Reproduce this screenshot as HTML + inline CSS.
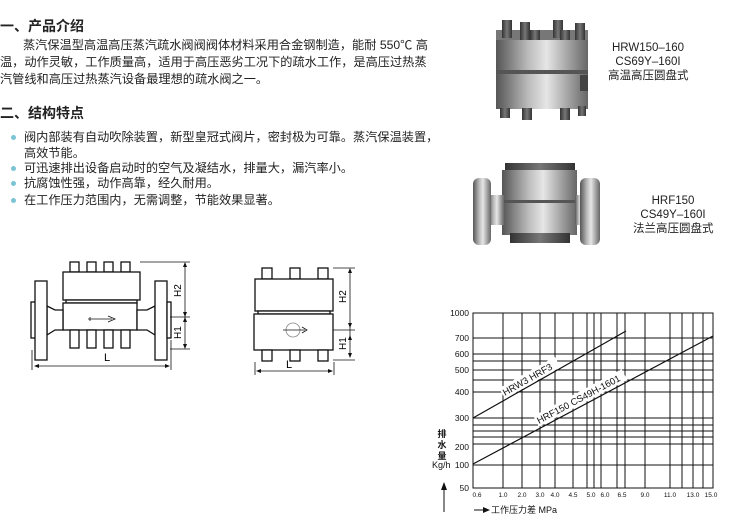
<!DOCTYPE html>
<html><head><meta charset="utf-8"><style>
body{margin:0;width:730px;height:523px;background:#fff;position:relative;overflow:hidden;font-family:"Liberation Sans","Noto Sans CJK SC",sans-serif;color:#222}
.t{position:absolute;white-space:nowrap;font-size:12.2px;line-height:16px}
.h{position:absolute;font-weight:bold;font-size:14px;white-space:nowrap}
.b{position:absolute;width:5px;height:5px;border-radius:50%;background:#7bc4d4}
.lab{position:absolute;font-size:11.5px;line-height:14px;text-align:center;white-space:nowrap}
</style></head><body>
<div class="h" style="left:0;top:16px">一、产品介绍</div>
<div class="t" style="left:23px;top:37px">蒸汽保温型高温高压蒸汽疏水阀阀阀体材料采用合金钢制造，能耐 550℃ 高</div>
<div class="t" style="left:0;top:54px">温，动作灵敏，工作质量高，适用于高压恶劣工况下的疏水工作，是高压过热蒸</div>
<div class="t" style="left:0;top:71px">汽管线和高压过热蒸汽设备最理想的疏水阀之一。</div>
<div class="h" style="left:0;top:103px">二、结构特点</div>
<div class="b" style="left:11px;top:135px"></div>
<div class="t" style="left:24px;top:129px">阀内部装有自动吹除装置，新型皇冠式阀片，密封极为可靠。蒸汽保温装置，</div>
<div class="t" style="left:24px;top:145px">高效节能。</div>
<div class="b" style="left:11px;top:166px"></div>
<div class="t" style="left:24px;top:160px">可迅速排出设备启动时的空气及凝结水，排量大，漏汽率小。</div>
<div class="b" style="left:11px;top:181px"></div>
<div class="t" style="left:24px;top:175px">抗腐蚀性强，动作高靠，经久耐用。</div>
<div class="b" style="left:11px;top:198px"></div>
<div class="t" style="left:24px;top:192px">在工作压力范围内，无需调整，节能效果显著。</div>

<div class="lab" style="left:608px;top:41px;width:80px">HRW150–160<br>CS69Y–160I<br>高温高压圆盘式</div>
<div class="lab" style="left:633px;top:194px;width:80px">HRF150<br>CS49Y–160I<br>法兰高压圆盘式</div>

<svg width="730" height="523" style="position:absolute;left:0;top:0">
<defs>
<linearGradient id="g" x1="0" x2="1"><stop offset="0" stop-color="#555"/><stop offset=".35" stop-color="#bbb"/><stop offset=".55" stop-color="#e6e6e6"/><stop offset="1" stop-color="#666"/></linearGradient>
<linearGradient id="gb" x1="0" x2="1"><stop offset="0" stop-color="#333"/><stop offset=".5" stop-color="#777"/><stop offset="1" stop-color="#333"/></linearGradient>
</defs>
<g>
<rect x="496" y="30" width="92" height="10" fill="#777"/>
<rect x="502" y="20" width="10" height="18" fill="url(#gb)"/><rect x="520" y="22" width="10" height="20" fill="url(#gb)"/><rect x="553" y="20" width="10" height="18" fill="url(#gb)"/><rect x="575" y="23" width="10" height="18" fill="url(#gb)"/><rect x="530" y="30" width="10" height="15" fill="url(#gb)"/><rect x="560" y="30" width="10" height="15" fill="url(#gb)"/>
<rect x="496" y="40" width="92" height="30" fill="url(#g)"/>
<rect x="496" y="70" width="92" height="4" fill="#555"/>
<rect x="496" y="74" width="92" height="35" fill="url(#g)"/>
<rect x="580" y="75" width="8" height="16" fill="#444"/>
<rect x="500" y="108" width="10" height="10" fill="url(#gb)"/><rect x="522" y="108" width="10" height="12" fill="url(#gb)"/><rect x="560" y="108" width="10" height="12" fill="url(#gb)"/><rect x="578" y="106" width="8" height="10" fill="url(#gb)"/>
</g>
<g>
<rect x="505" y="163" width="70" height="12" fill="url(#gb)"/>
<rect x="502" y="170" width="75" height="30" fill="url(#g)"/>
<rect x="502" y="200" width="75" height="3" fill="#555"/>
<rect x="502" y="203" width="75" height="32" fill="url(#g)"/>
<rect x="510" y="233" width="60" height="10" fill="url(#gb)"/>
<rect x="488" y="195" width="16" height="30" fill="url(#g)"/>
<rect x="575" y="195" width="10" height="30" fill="url(#g)"/>
<rect x="473" y="178" width="18" height="67" rx="6" fill="url(#g)"/>
<rect x="580" y="178" width="20" height="67" rx="6" fill="url(#g)"/>
</g>

<g fill="#fff" stroke="#111" stroke-width="1.3">
<rect x="70" y="262" width="9" height="10"/><rect x="87" y="262" width="9" height="10"/><rect x="104" y="262" width="9" height="10"/><rect x="121" y="262" width="9" height="10"/>
<rect x="63" y="272" width="77" height="28"/>
<rect x="66" y="300" width="71" height="3"/>
<rect x="63" y="303" width="74" height="27"/>
<rect x="70" y="330" width="9" height="18"/><rect x="87" y="330" width="9" height="18"/><rect x="104" y="330" width="9" height="18"/><rect x="121" y="330" width="9" height="18"/>
<path d="M47 306 L55 310 L63 310 L63 330 L55 330 L47 335 Z"/>
<path d="M155 306 L147 310 L137 310 L137 330 L147 330 L155 335 Z"/>
<rect x="31" y="302" width="5" height="36"/>
<rect x="35" y="281" width="12" height="79"/>
<rect x="155" y="281" width="12" height="79"/>
<rect x="167" y="302" width="4" height="36"/>
</g>
<g stroke="#111" fill="none" stroke-width="0.8">
<path d="M88 319 H112 M108 316 L115 319 L108 322 M90 317 V321"/>
<path d="M140 262 H190 M170 317 H190 M170 349 H190 M185 264 V347 M32 350 V370 M171 340 V370 M36 366 H168"/>
</g>
<g fill="#111"><path d="M185 262 l-2 5 h4 z M185 317 l-2 -5 h4 z M185 317 l-2 5 h4 z M185 349 l-2 -5 h4 z M34 366 l5 -2 v4 z M170 366 l-5 -2 v4 z"/></g>
<text x="104" y="361" font-size="11" font-family="Liberation Sans">L</text>
<text transform="translate(181,297) rotate(-90)" font-size="10" font-family="Liberation Sans">H2</text>
<text transform="translate(181,339) rotate(-90)" font-size="10" font-family="Liberation Sans">H1</text>

<g fill="#fff" stroke="#111" stroke-width="1.3">
<rect x="262" y="268" width="10" height="11"/><rect x="290" y="268" width="10" height="11"/><rect x="318" y="268" width="10" height="11"/>
<rect x="255" y="279" width="78" height="32"/>
<rect x="258" y="311" width="72" height="3"/>
<rect x="254" y="314" width="79" height="36"/>
<rect x="262" y="350" width="10" height="11"/><rect x="290" y="350" width="10" height="11"/><rect x="318" y="350" width="10" height="11"/>
</g>
<g stroke="#111" fill="none" stroke-width="0.8">
<circle cx="293" cy="330" r="7" stroke="#888"/>
<path d="M283 330 H305 M302 327 L307 330 L302 333"/>
<path d="M333 268 H355 M333 330 H355 M333 360 H355 M350 270 V357 M255 362 V375 M334 362 V375 M258 371 H331"/>
</g>
<g fill="#111"><path d="M350 268 l-2 5 h4 z M350 328 l-2 -5 h4 z M350 335 l-2 5 h4 z M350 358 l-2 -5 h4 z M256 371 l5 -2 v4 z M333 371 l-5 -2 v4 z"/></g>
<text x="286" y="368" font-size="11" font-family="Liberation Sans">L</text>
<text transform="translate(346,303) rotate(-90)" font-size="10" font-family="Liberation Sans">H2</text>
<text transform="translate(346,350) rotate(-90)" font-size="10" font-family="Liberation Sans">H1</text>

<g stroke="#111" stroke-width="1" fill="none">
<rect x="473" y="313" width="240" height="175"/>
<path d="M503 313V488 M522 313V488 M540 313V488 M555 313V488 M573 313V488 M587 313V488 M594 313V488 M601 313V488 M617 313V488 M625 313V488 M645 313V488 M670 313V488 M682 313V488 M693 313V488 M703 313V488"/>
<path d="M473 338H713 M473 354H713 M473 361H713 M473 370H713 M473 380H713 M473 392H713 M473 418H713 M473 425H713 M473 431H713 M473 437H713 M473 444H713 M473 465H713"/>
</g>
<path d="M473 418 L626 331" stroke="#111" stroke-width="1.2"/>
<path d="M473 464 L713 336" stroke="#111" stroke-width="1.2"/>
<g font-family="Liberation Sans" fill="#111">
<rect x="0" y="-10" width="64" height="12" fill="#fff" transform="translate(504,397) rotate(-29.6)"/>
<text transform="translate(505,396) rotate(-29.6)" font-size="9.5">HRW3  HRF3</text>
<rect x="0" y="-10" width="100" height="12" fill="#fff" transform="translate(538,425) rotate(-28)"/>
<text transform="translate(539,424) rotate(-28)" font-size="9.5">HRF150  CS49H-1601</text>
<g text-anchor="end" font-size="8.5"><text x="469" y="316">1000</text><text x="469" y="341">700</text><text x="469" y="357">600</text><text x="469" y="373">500</text><text x="469" y="395">400</text><text x="469" y="421">300</text><text x="469" y="450">200</text><text x="469" y="468">100</text><text x="469" y="491">50</text></g>
<text x="432" y="468" font-size="9">Kg/h</text>
<g text-anchor="middle" font-size="6.5"><text x="477" y="497">0.6</text><text x="503" y="497">1.0</text><text x="522" y="497">2.0</text><text x="540" y="497">3.0</text><text x="555" y="497">4.0</text><text x="573" y="497">4.5</text><text x="591" y="497">5.0</text><text x="605" y="497">6.0</text><text x="622" y="497">6.5</text><text x="645" y="497">9.0</text><text x="670" y="497">11.0</text><text x="693" y="497">13.0</text><text x="711" y="497">15.0</text></g>
<text x="491" y="513" font-size="9" font-family="Liberation Sans,Noto Sans CJK SC,sans-serif">工作压力差  MPa</text>
</g>
<g font-size="9" font-family="Liberation Sans,Noto Sans CJK SC,sans-serif" font-weight="bold" fill="#111" text-anchor="middle"><text x="442" y="437">排</text><text x="442" y="448">水</text><text x="442" y="459">量</text></g>
<path d="M444 512 V488" stroke="#111" stroke-width="1"/><path d="M444 482 l-3 8 h6 z" fill="#111"/>
<path d="M474 510 H484" stroke="#111"/><path d="M490 510 l-7 -3 v6 z" fill="#111"/>
</svg>
</body></html>
